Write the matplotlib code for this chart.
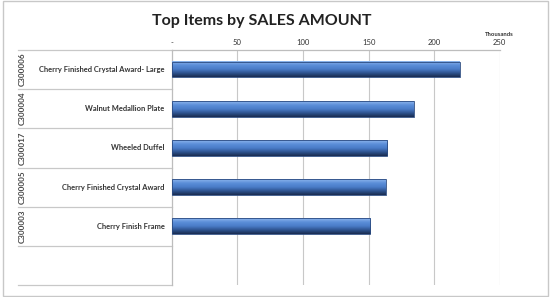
import numpy as np
import matplotlib.pyplot as plt
from matplotlib.colors import LinearSegmentedColormap
from matplotlib.patches import Rectangle

plt.rcParams['font.family'] = ['Lato', 'DejaVu Sans']

# data
codes = ["C300006", "C300004", "C300017", "C300005", "C300003"]
items = ["Cherry Finished Crystal Award- Large", "Walnut Medallion Plate",
         "Wheeled Duffel", "Cherry Finished Crystal Award", "Cherry Finish Frame"]
sales = [219.5, 184.5, 164, 163, 151]  # thousands
ticks = [0, 50, 100, 150, 200, 250]
tick_labels = ["-", "50", "100", "150", "200", "250"]

fig = plt.figure(figsize=(5.51, 2.97), dpi=100)
fig.patch.set_facecolor("white")
fig.patches.append(Rectangle((0.006, 0.004), 0.988, 0.992, transform=fig.transFigure,
                             fill=False, edgecolor="#c8c8c8", lw=1))
ax = fig.add_axes([0.312, 0.040, 0.595, 0.792])

n_rows = len(items) + 1

# gradient bars (light top, dark bottom)
cmap = LinearSegmentedColormap.from_list(
    "bar", ["#8db5ec", "#5b8ed8", "#4a7cc8", "#2e538f", "#1a2c50"])
grad = np.linspace(0, 1, 64).reshape(-1, 1)
bh = 0.4
for i, v in enumerate(sales):
    ax.imshow(grad, extent=[0, v, i + bh / 2, i - bh / 2], aspect="auto",
              cmap=cmap, zorder=3, origin="upper")
    ax.add_patch(Rectangle((0, i - bh / 2), v, bh, fill=False,
                           edgecolor="#2a4a80", lw=0.6, zorder=4))
ax.set_xlim(0, 250)
ax.set_ylim(n_rows - 0.5, -0.5)

ax.xaxis.tick_top()
ax.set_xticks(ticks)
ax.set_xticklabels(tick_labels, fontsize=5.5, color="#333333")
ax.tick_params(axis="x", length=0, pad=3)
ax.set_yticks([])
for x in ticks[1:]:
    ax.axvline(x, color="#c8c8c8", lw=0.8, zorder=1)
for s in ["right", "bottom"]:
    ax.spines[s].set_visible(False)
for s in ["left", "top"]:
    ax.spines[s].set_color("#bdbdbd")
    ax.spines[s].set_linewidth(0.9)

# two-level category labels
trans = ax.get_yaxis_transform()
for i in range(n_rows):
    ax.plot([-0.47, 0], [i + 0.5, i + 0.5], transform=trans, color="#c8c8c8",
            lw=0.9, clip_on=False)
ax.plot([-0.47, 0], [-0.5, -0.5], transform=trans, color="#c8c8c8",
        lw=0.9, clip_on=False)
for i, (c, name) in enumerate(zip(codes, items)):
    ax.text(-0.022, i, name, transform=trans, ha="right", va="center",
            fontsize=5.4, fontweight="bold", color="#333333")
    ax.text(-0.455, i, c, transform=trans, ha="center", va="center",
            rotation=90, fontsize=5.8, fontweight="bold", color="#444444")

ax.text(1.0, 1.055, "Thousands", transform=ax.transAxes, ha="center", va="bottom",
        fontsize=4.3, fontweight="bold", color="#333333")
fig.text(0.475, 0.93, "Top Items by SALES AMOUNT", ha="center", va="center",
         fontsize=11.5, fontweight="bold", color="#222222")

fig.savefig("out.png", dpi=100)
